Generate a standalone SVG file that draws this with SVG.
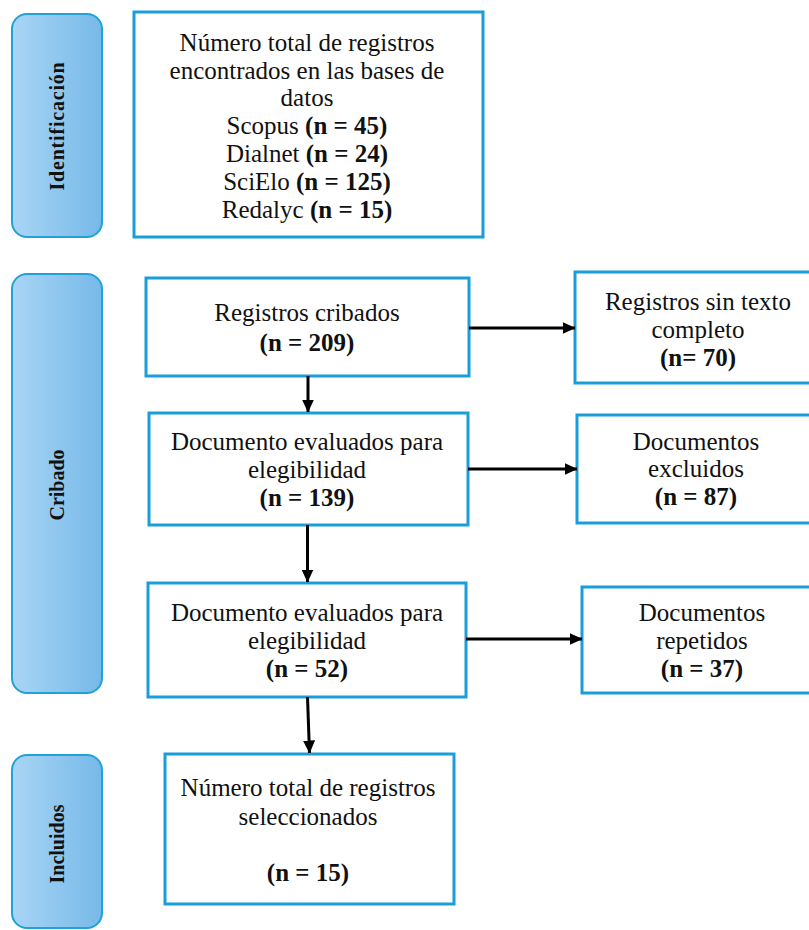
<svg xmlns="http://www.w3.org/2000/svg" width="809" height="930" viewBox="0 0 809 930">
<defs>
<linearGradient id="sideGrad" x1="0" y1="0" x2="1" y2="0">
<stop offset="0" stop-color="#a9d5f5"/>
<stop offset="1" stop-color="#76b9e8"/>
</linearGradient>
<marker id="arrow" markerWidth="13" markerHeight="12" refX="12.5" refY="6" orient="auto" markerUnits="userSpaceOnUse">
<path d="M0,0 L13,6 L0,12 Z" fill="#000"/>
</marker>
</defs>
<style>
.side{fill:url(#sideGrad);stroke:#22a1d9;stroke-width:2}
.side-t{font-family:"Liberation Serif","Times New Roman",serif;font-weight:bold;font-size:20px;fill:#111}
.box{fill:#fff;stroke:#189fd9;stroke-width:3}
.t{font-family:"Liberation Serif","Times New Roman",serif;font-size:25px;fill:#111;text-anchor:middle}
.b{font-weight:bold}
.conn{stroke:#000;stroke-width:3;fill:none;marker-end:url(#arrow)}
</style>
<rect width="809" height="930" fill="#fff"/>

<g id="side-identificacion">
<rect class="side" x="12" y="14" width="90" height="223" rx="15"/>
<text class="side-t" transform="translate(64,126) rotate(-90)" text-anchor="middle" letter-spacing="0.8">Identificación</text>
</g>
<g id="side-cribado">
<rect class="side" x="12" y="274" width="90" height="419" rx="15"/>
<text class="side-t" transform="translate(64,485) rotate(-90)" text-anchor="middle">Cribado</text>
</g>
<g id="side-incluidos">
<rect class="side" x="12" y="755" width="90" height="173" rx="15"/>
<text class="side-t" transform="translate(64,844) rotate(-90)" text-anchor="middle">Incluidos</text>
</g>

<g id="n-identificacion">
<rect class="box" x="134" y="12" width="349" height="225"/>
<text class="t" x="307" y="51">Número total de registros</text>
<text class="t" x="307" y="79">encontrados en las bases de</text>
<text class="t" x="307" y="106">datos</text>
<text class="t" x="307" y="134">Scopus <tspan class="b">(n = 45)</tspan></text>
<text class="t" x="307" y="162">Dialnet <tspan class="b">(n = 24)</tspan></text>
<text class="t" x="307" y="190">SciElo <tspan class="b">(n = 125)</tspan></text>
<text class="t" x="307" y="218">Redalyc <tspan class="b">(n = 15)</tspan></text>
</g>

<g id="n-cribados">
<rect class="box" x="146" y="278" width="323" height="98"/>
<text class="t" x="307" y="321">Registros cribados</text>
<text class="t b" x="307" y="351">(n = 209)</text>
</g>
<g id="n-sintexto">
<rect class="box" x="575" y="272" width="246" height="111"/>
<text class="t" x="698" y="310">Registros sin texto</text>
<text class="t" x="698" y="338">completo</text>
<text class="t b" x="698" y="366">(n= 70)</text>
</g>
<g id="n-evaluados139">
<rect class="box" x="149" y="413" width="319" height="112"/>
<text class="t" x="307" y="450">Documento evaluados para</text>
<text class="t" x="307" y="478">elegibilidad</text>
<text class="t b" x="307" y="506">(n = 139)</text>
</g>
<g id="n-excluidos">
<rect class="box" x="577" y="415" width="240" height="108"/>
<text class="t" x="696" y="450">Documentos</text>
<text class="t" x="696" y="477">excluidos</text>
<text class="t b" x="696" y="505">(n = 87)</text>
</g>
<g id="n-evaluados52">
<rect class="box" x="148" y="583" width="318" height="114"/>
<text class="t" x="307" y="621">Documento evaluados para</text>
<text class="t" x="307" y="649">elegibilidad</text>
<text class="t b" x="307" y="677">(n = 52)</text>
</g>
<g id="n-repetidos">
<rect class="box" x="582" y="587" width="240" height="106"/>
<text class="t" x="702" y="621">Documentos</text>
<text class="t" x="702" y="649">repetidos</text>
<text class="t b" x="702" y="677">(n = 37)</text>
</g>
<g id="n-incluidos">
<rect class="box" x="165" y="754" width="289" height="150"/>
<text class="t" x="308" y="796">Número total de registros</text>
<text class="t" x="308" y="825">seleccionados</text>
<text class="t b" x="308" y="881">(n = 15)</text>
</g>

<g id="connectors">
<line class="conn" x1="469" y1="328" x2="575" y2="328"/>
<line class="conn" x1="308" y1="376" x2="308" y2="412"/>
<line class="conn" x1="468" y1="469" x2="577" y2="469"/>
<line class="conn" x1="307.5" y1="525" x2="307.5" y2="582"/>
<line class="conn" x1="466" y1="639" x2="582" y2="639"/>
<line class="conn" x1="307.5" y1="697" x2="309.5" y2="753"/>
</g>
</svg>
